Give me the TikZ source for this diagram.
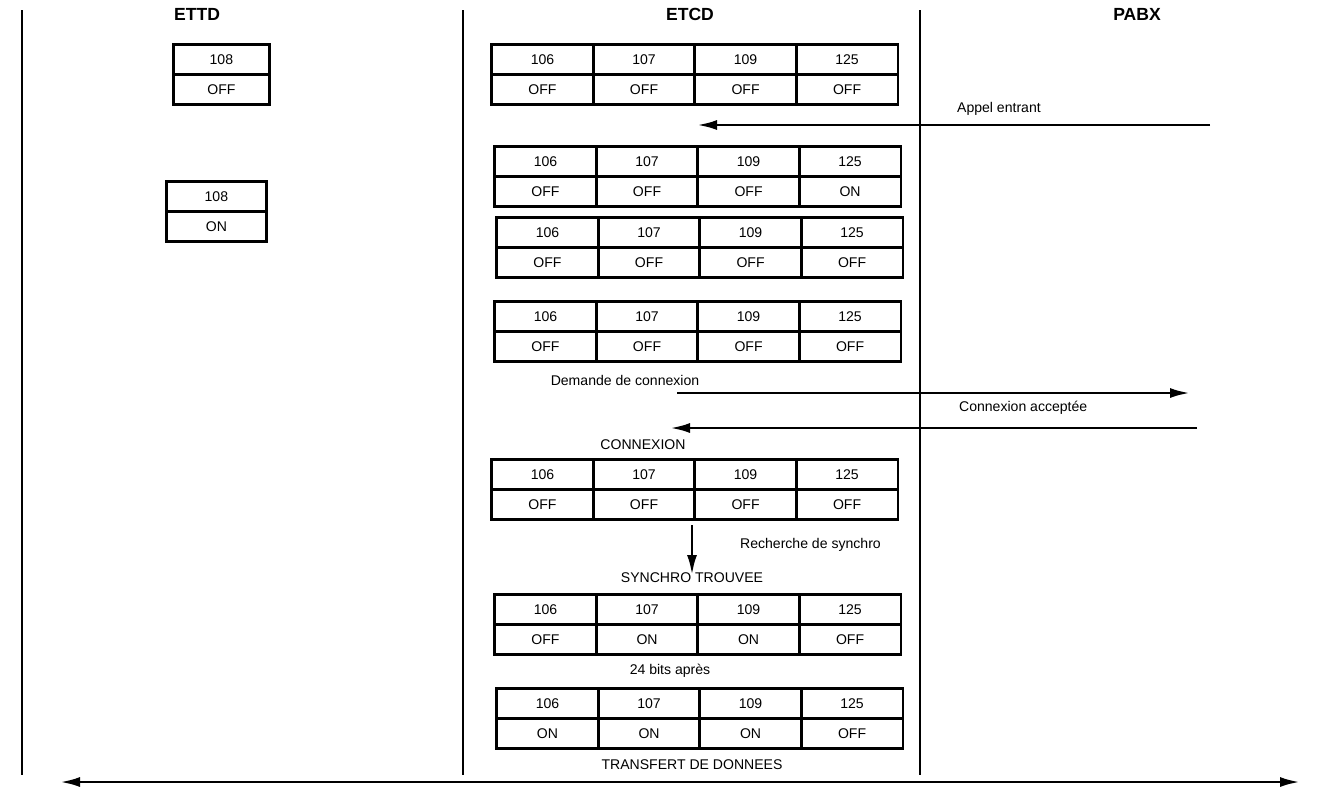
\documentclass[tikz,border=0pt]{standalone}
\usepackage{fontspec}
\setmainfont{Liberation Sans}
\usetikzlibrary{arrows.meta,positioning}

\tikzset{
  cell/.style={draw, line width=1.6pt, minimum width=2.04cm, minimum height=0.6cm, inner sep=0pt, anchor=north west, font=\fontsize{8}{9}\selectfont},
  lbl/.style={font=\fontsize{8}{9}\selectfont, inner sep=1pt},
  head/.style={font=\bfseries\fontsize{10}{12}\selectfont},
  sep/.style={line width=1pt},
  msg/.style={line width=1.6pt, -{Latex[length=4mm,width=2mm]}}
}

% table of four signals: prefix, x, y (pixels), states
\newcommand{\statetable}[4]{%
  \foreach \sig [count=\i] in {106,107,109,125}
    \node[cell] (#1h\i) at ({(#2+(\i-1)*101.5)*0.02}, {-#3*0.02}) {\sig};
  \foreach \st [count=\i] in {#4}
    \node[cell] (#1s\i) at ({(#2+(\i-1)*101.5)*0.02}, {-(#3+30)*0.02}) {\st};
}

\begin{document}
\begin{tikzpicture}
  \useasboundingbox (0,0) rectangle (26.8,-15.9);

  % columns
  \coordinate (c1t) at (0.44,-0.2);  \coordinate (c1b) at (0.44,-15.5);
  \coordinate (c2t) at (9.26,-0.2);  \coordinate (c2b) at (9.26,-15.5);
  \coordinate (c3t) at (18.4,-0.2);  \coordinate (c3b) at (18.4,-15.5);
  \draw[sep] (c1t) -- (c1b);
  \draw[sep] (c2t) -- (c2b);
  \draw[sep] (c3t) -- (c3b);

  \node[head] (ettd) at (3.94,-0.28) {ETTD};
  \node[head] (etcd) at (13.8,-0.28) {ETCD};
  \node[head] (pabx) at (22.74,-0.28) {PABX};

  % ETTD side
  \node[cell, minimum width=1.92cm] (dh1) at (3.44,-0.86) {108};
  \node[cell, minimum width=1.92cm] (ds1) at (3.44,-1.46) {OFF};
  \node[cell, minimum width=2cm] (dh2) at (3.3,-3.6) {108};
  \node[cell, minimum width=2cm] (ds2) at (3.3,-4.2) {ON};

  % ETCD side
  \statetable{a}{490}{43}{OFF,OFF,OFF,OFF}
  \statetable{b}{493}{145}{OFF,OFF,OFF,ON}
  \statetable{c}{495}{216}{OFF,OFF,OFF,OFF}
  \statetable{d}{493}{300}{OFF,OFF,OFF,OFF}
  \statetable{e}{490}{458}{OFF,OFF,OFF,OFF}
  \statetable{f}{493}{593}{OFF,ON,ON,OFF}
  \statetable{g}{495}{687}{ON,ON,ON,OFF}

  % messages
  \coordinate (appS) at (24.2,-2.5);   \coordinate (appE) at (13.94,-2.5);
  \draw[msg] (appS) -- (appE);
  \node[lbl, anchor=south west] (appel) at (19.1,-2.36) {Appel entrant};

  \node[lbl] (dem) at (12.5,-7.6) {Demande de connexion};
  \coordinate (demS) at (13.54,-7.86); \coordinate (demE) at (23.8,-7.86);
  \draw[msg] (demS) -- (demE);

  \node[lbl, anchor=south west] (acc) at (19.14,-8.34) {Connexion acceptée};
  \coordinate (accS) at (23.94,-8.56); \coordinate (accE) at (13.4,-8.56);
  \draw[msg] (accS) -- (accE);

  \node[lbl] (cnx) at (12.86,-8.9) {CONNEXION};

  \coordinate (synS) at (13.84,-10.5); \coordinate (synE) at (13.84,-11.5);
  \draw[msg] (synS) -- (synE);
  \node[lbl, anchor=west] (rech) at (14.76,-10.9) {Recherche de synchro};
  \node[lbl] (trouv) at (13.84,-11.56) {SYNCHRO TROUVEE};
  \node[lbl] (bits) at (13.4,-13.42) {24 bits après};
  \node[lbl] (transf) at (13.84,-15.3) {TRANSFERT DE DONNEES};

  % bottom
  \coordinate (botL) at (1.2,-15.64); \coordinate (botR) at (26.0,-15.64);
  \draw[line width=1.6pt, {Latex[length=4mm,width=2mm]}-{Latex[length=4mm,width=2mm]}] (botL) -- (botR);
\end{tikzpicture}
\end{document}
